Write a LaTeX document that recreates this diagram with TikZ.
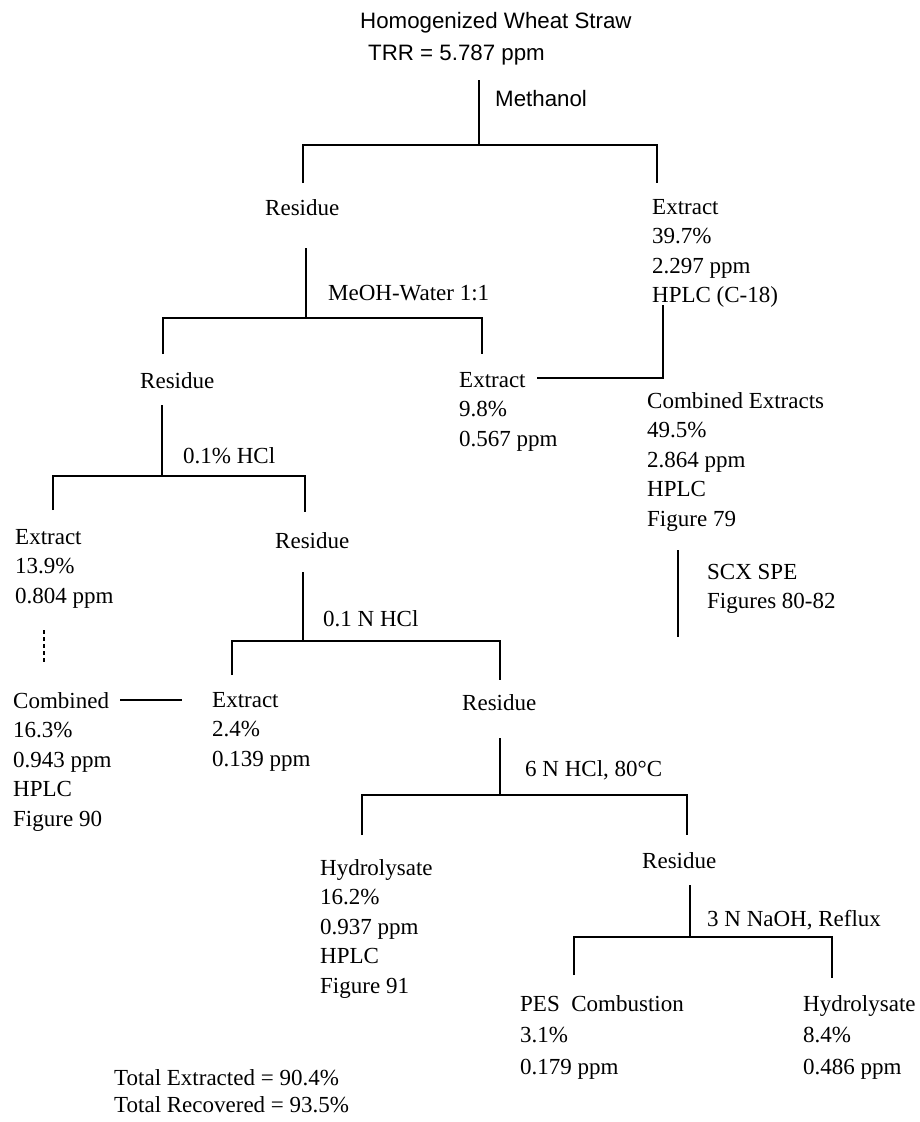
\documentclass[tikz,border=0pt]{standalone}
\usepackage{fontspec}
\setmainfont{Liberation Serif}
\newfontfamily\sansf{Liberation Sans}
\begin{document}
\begin{tikzpicture}[x=1pt,y=-1pt,
  txt/.style={font=\fontsize{23}{29.5}\selectfont, inner sep=0pt, anchor=north west, align=left},
  txtw/.style={font=\fontsize{23}{31.5}\selectfont, inner sep=0pt, anchor=north west, align=left},
  txtt/.style={font=\fontsize{23}{27}\selectfont, inner sep=0pt, anchor=north west, align=left},
  stxt/.style={font=\sansf\fontsize{22.3}{30}\selectfont, inner sep=0pt, anchor=north west},
  stem/.style={line width=1.3pt},
  brk/.style={line width=2.3pt},
  dashln/.style={line width=1.2pt, dash pattern=on 4pt off 3pt}]
\useasboundingbox (0,0) rectangle (920,1122);
\fill[white] (0,0) rectangle (920,1122);

% texts
\node[stxt] (homog) at (360,12) {Homogenized Wheat Straw};
\node[stxt] (trr) at (368,45) {TRR = 5.787 ppm};
\node[stxt] (meth) at (495,90) {Methanol};
\node[txt] (res1) at (265,199) {Residue};
\node[txt] (ext1) at (652,199) {Extract\\39.7\%\\2.297 ppm\\HPLC (C-18)};
\node[txt] (meoh) at (328,285) {MeOH-Water 1:1};
\node[txt] (res2) at (140,372) {Residue};
\node[txt] (ext2) at (459,372) {Extract\\9.8\%\\0.567 ppm};
\node[txt] (comb1) at (647,392) {Combined Extracts\\49.5\%\\2.864 ppm\\HPLC\\Figure 79};
\node[txt] (scx) at (707,564) {SCX SPE\\Figures 80-82};
\node[txt] (hcl1) at (183,447) {0.1\% HCl};
\node[txt] (ext3) at (15,529) {Extract\\13.9\%\\0.804 ppm};
\node[txt] (res3) at (275,532) {Residue};
\node[txt] (hcl2) at (323,610) {0.1 N HCl};
\node[txt] (comb2) at (13,692) {Combined\\16.3\%\\0.943 ppm\\HPLC\\Figure 90};
\node[txt] (ext4) at (212,692) {Extract\\2.4\%\\0.139 ppm};
\node[txt] (res4) at (462,694) {Residue};
\node[txt] (hcl3) at (525,760) {6 N HCl, 80°C};
\node[txt] (hyd1) at (320,859) {Hydrolysate\\16.2\%\\0.937 ppm\\HPLC\\Figure 91};
\node[txt] (res5) at (642,852) {Residue};
\node[txt] (naoh) at (707,910) {3 N NaOH, Reflux};
\node[txtw] (pes) at (520,995) {PES~~Combustion\\3.1\%\\0.179 ppm};
\node[txtw] (hyd2) at (803,995) {Hydrolysate\\8.4\%\\0.486 ppm};
\node[txtt] (total) at (114,1069) {Total Extracted = 90.4\%\\Total Recovered = 93.5\%};

% junction coordinates
\coordinate (a0) at (479,80);   \coordinate (a1) at (479,145);
\coordinate (a2) at (303,145);  \coordinate (a3) at (657,145);
\coordinate (a4) at (303,183);  \coordinate (a5) at (657,183);

\coordinate (b0) at (306,248);  \coordinate (b1) at (306,318);
\coordinate (b2) at (163,318);  \coordinate (b3) at (482,318);
\coordinate (b4) at (163,354);  \coordinate (b5) at (482,354);

\coordinate (c0) at (162,405);  \coordinate (c1) at (162,476);
\coordinate (c2) at (53,476);   \coordinate (c3) at (305,476);
\coordinate (c4) at (53,510);   \coordinate (c5) at (305,512);

\coordinate (e0) at (537,378);  \coordinate (e1) at (663,378);
\coordinate (e2) at (663,305);
\coordinate (f0) at (678,550);  \coordinate (f1) at (678,637);

\coordinate (d0) at (303,572);  \coordinate (d1) at (303,641);
\coordinate (d2) at (232,641);  \coordinate (d3) at (500,641);
\coordinate (d4) at (232,675);  \coordinate (d5) at (500,680);

\coordinate (g0) at (44,630);   \coordinate (g1) at (44,662);
\coordinate (h0) at (120,700);  \coordinate (h1) at (182,700);

\coordinate (k0) at (500,738);  \coordinate (k1) at (500,795);
\coordinate (k2) at (362,795);  \coordinate (k3) at (687,795);
\coordinate (k4) at (362,835);  \coordinate (k5) at (687,835);

\coordinate (m0) at (690,885);  \coordinate (m1) at (690,937);
\coordinate (m2) at (574,937);  \coordinate (m3) at (832,937);
\coordinate (m4) at (574,975);  \coordinate (m5) at (832,978);

% connectors
\draw[stem] (a0) -- (a1);
\draw[brk] (a4) -- (a2) -- (a3) -- (a5);
\draw[stem] (b0) -- (b1);
\draw[brk] (b4) -- (b2) -- (b3) -- (b5);
\draw[stem] (c0) -- (c1);
\draw[brk] (c4) -- (c2) -- (c3) -- (c5);
\draw[brk] (e0) -- (e1) -- (e2);
\draw[stem] (f0) -- (f1);
\draw[stem] (d0) -- (d1);
\draw[brk] (d4) -- (d2) -- (d3) -- (d5);
\draw[dashln] (g0) -- (g1);
\draw[stem] (h0) -- (h1);
\draw[stem] (k0) -- (k1);
\draw[brk] (k4) -- (k2) -- (k3) -- (k5);
\draw[stem] (m0) -- (m1);
\draw[brk] (m4) -- (m2) -- (m3) -- (m5);
\end{tikzpicture}
\end{document}
